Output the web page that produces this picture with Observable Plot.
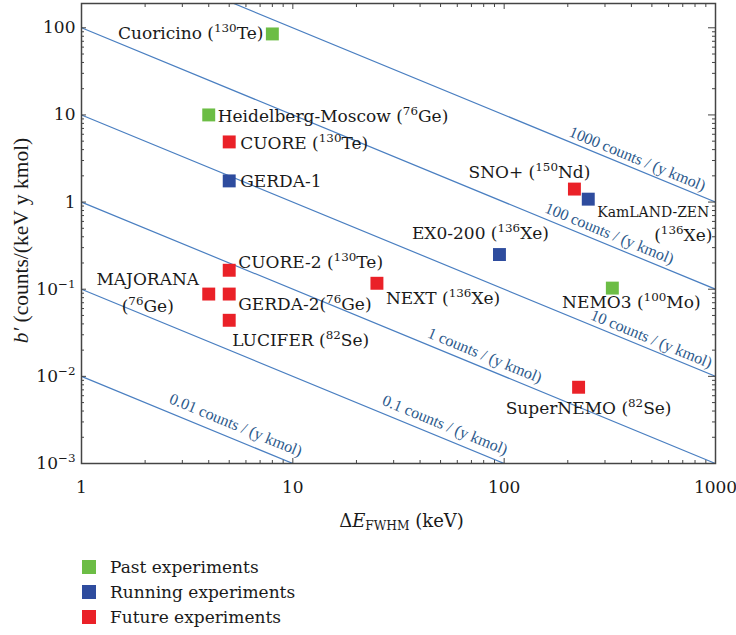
<!DOCTYPE html>
<html><head><meta charset="utf-8">
<script src="https://cdn.jsdelivr.net/npm/d3@7"></script>
<script src="https://cdn.jsdelivr.net/npm/@observablehq/plot@0.6"></script>
<style>
body{margin:0;background:#fff;font-family:"DejaVu Serif",serif;}
#legend{margin-top:14px;padding-left:82px;}
.row{display:flex;align-items:center;height:25px;font-size:17px;color:#1a1a1a}
.sw{width:14px;height:14px;margin-right:14px}
</style></head><body><div id="chart"></div><div id="legend"></div>
<script>
// ---- data ----
const experiments = ["Cuoricino","Heidelberg-Moscow","CUORE","GERDA-1","CUORE-2","MAJORANA","GERDA-2","LUCIFER","NEXT","EX0-200","SNO+","KamLAND-ZEN","NEMO3","SuperNEMO"];
const deltaE = [8, 4, 5, 5, 5, 4, 5, 5, 25, 95, 215, 250, 325, 225];
const background = [85, 10, 4.9, 1.75, 0.165, 0.088, 0.088, 0.044, 0.117, 0.25, 1.41, 1.08, 0.103, 0.0075];
const status = ["Past","Past","Future","Running","Future","Future","Future","Future","Future","Running","Future","Running","Past","Future"];
const labelText = ["Cuoricino (^{130}Te)","Heidelberg-Moscow (^{76}Ge)","CUORE (^{130}Te)","GERDA-1","CUORE-2 (^{130}Te)","MAJORANA\n(^{76}Ge)","GERDA-2(^{76}Ge)","LUCIFER (^{82}Se)","NEXT (^{136}Xe)","EX0-200 (^{136}Xe)","SNO+ (^{150}Nd)","KamLAND-ZEN\n(^{136}Xe)","NEMO3 (^{100}Mo)","SuperNEMO (^{82}Se)"];
const statusNames = ["Past","Running","Future"];
const legendLabels = ["Past experiments","Running experiments","Future experiments"];
const countRates = [1000, 100, 10, 1, 0.1, 0.01];
const countLabels = ["1000 counts / (y kmol)","100 counts / (y kmol)","10 counts / (y kmol)","1 counts / (y kmol)","0.1 counts / (y kmol)","0.01 counts / (y kmol)"];
const xTickValues = [1, 10, 100, 1000];
const xTickLabels = ["1","10","100","1000"];
const yTickValues = [1e-3, 1e-2, 1e-1, 1, 10, 100];
const yTickLabels = ["10^{−3}","10^{−2}","10^{−1}","1","10","100"];

// ---- layout / style ----
const colors = ["#6cbd45","#2e4c9e","#ea2128"];
const lineColor = "#4a7fc1", lineTextColor = "#2d5a8c", axisColor = "#444";
// per label line: [dx, dy, anchor, fontSize]
const placement = {
  "Cuoricino": [[-9,0,"end"]],
  "Heidelberg-Moscow": [[9,2,"start"]],
  "CUORE": [[11,2,"start"]],
  "GERDA-1": [[11,1,"start"]],
  "CUORE-2": [[9,-8,"start"]],
  "MAJORANA": [[-61,-15,"middle"],[-61,12,"middle"]],
  "GERDA-2": [[9,10,"start"]],
  "LUCIFER": [[3,20,"start"]],
  "NEXT": [[9,15,"start"]],
  "EX0-200": [[-19,-21,"middle"]],
  "SNO+": [[-45,-17,"middle"]],
  "KamLAND-ZEN": [[65,13,"middle",14],[95,36,"middle"]],
  "NEMO3": [[19,14,"middle"]],
  "SuperNEMO": [[10,21,"middle"]]
};
const countLabelAt = [427, 315, 497, 81, 52.5, 5.37];
const countLabelDy = [-11, -12, -11, -13, -14, -15];

const points = experiments.map((n, i) => ({name: n, x: deltaE[i], y: background[i], status: status[i]}));
const lines = countRates.flatMap(c => [{c, x: 1, y: c}, {c, x: 1000, y: c / 1000}]);

const labelMarks = points.flatMap((p, i) => labelText[i].split("\n").map((t, j) => {
  const [dx, dy, anchor, fs] = placement[p.name][j];
  return Plot.text([p], {x: "x", y: "y", text: () => t, dx, dy, textAnchor: anchor, lineAnchor: "middle", fontSize: fs || 17, fill: "#1a1a1a"});
}));
const countMarks = countRates.map((c, i) => Plot.text([{x: countLabelAt[i], y: c / countLabelAt[i]}], {
  x: "x", y: "y", text: () => countLabels[i], rotate: 22.4, dy: countLabelDy[i], textAnchor: "middle", lineAnchor: "middle",
  fontSize: 16, fill: lineTextColor, fontFamily: "Liberation Serif, serif"
}));

function decades(lo, hi) { const out = []; for (let k = lo; k < hi; k++) for (let m = 2; m <= 9; m++) out.push(m * Math.pow(10, k)); return out; }
const xMinor = decades(0, 3), yMinor = decades(-3, 3).filter(v => v < 190);
const blank = () => "";

const svg = Plot.plot({
  width: 736, height: 540,
  marginLeft: 81, marginRight: 21, marginTop: 3, marginBottom: 77,
  style: {fontFamily: "DejaVu Serif, serif", fontSize: "17px", background: "white", color: "#1a1a1a"},
  x: {type: "log", domain: [1, 1000]},
  y: {type: "log", domain: [1e-3, 190]},
  color: {domain: statusNames, range: colors},
  marks: [
    Plot.line(lines, {x: "x", y: "y", z: "c", stroke: lineColor, strokeWidth: 1.2, clip: true}),
    ...countMarks,
    Plot.axisX({ticks: xTickValues, tickFormat: d => xTickLabels[xTickValues.indexOf(d)], tickSize: 0, tickPadding: 17, label: null, fontSize: 17}),
    Plot.axisY({ticks: yTickValues, tickFormat: d => yTickLabels[yTickValues.indexOf(d)], tickSize: 0, tickPadding: 6, label: null, fontSize: 17}),
    Plot.axisX({anchor: "bottom", ticks: xTickValues, tickSize: -5, tickFormat: blank, label: null, stroke: axisColor}),
    Plot.axisX({anchor: "bottom", ticks: xMinor, tickSize: -3, tickFormat: blank, label: null, stroke: axisColor}),
    Plot.axisX({anchor: "top", ticks: xTickValues, tickSize: -5, tickFormat: blank, label: null, stroke: axisColor}),
    Plot.axisX({anchor: "top", ticks: xMinor, tickSize: -3, tickFormat: blank, label: null, stroke: axisColor}),
    Plot.axisY({anchor: "left", ticks: yTickValues, tickSize: -5, tickFormat: blank, label: null, stroke: axisColor}),
    Plot.axisY({anchor: "left", ticks: yMinor, tickSize: -3, tickFormat: blank, label: null, stroke: axisColor}),
    Plot.axisY({anchor: "right", ticks: yTickValues, tickSize: -8, tickFormat: blank, label: null, stroke: axisColor}),
    Plot.axisY({anchor: "right", ticks: yMinor, tickSize: -4, tickFormat: blank, label: null, stroke: axisColor}),
    Plot.frame({stroke: axisColor, strokeWidth: 1.5}),
    Plot.dot(points, {x: "x", y: "y", fill: "status", symbol: "square", r: 7.3}),
    ...labelMarks,
    Plot.text([0], {frameAnchor: "bottom", dy: 58, text: () => "Δ*{E}_{FWHM} (keV)", fontSize: 18, lineAnchor: "middle", textAnchor: "middle", dx: 3}),
    Plot.text([0], {frameAnchor: "left", rotate: -90, dx: -60, dy: 7, text: () => "*{b′} (counts/(keV y kmol)", fontSize: 21.5, lineAnchor: "middle", textAnchor: "middle", fontFamily: "Liberation Serif, serif"})
  ]
});

// convert ^{..} superscripts, _{..} subscripts, *{..} italics into tspans
function markup(root) {
  const ns = "http://www.w3.org/2000/svg";
  root.querySelectorAll("text").forEach(t => {
    if (t.querySelector("tspan")) return;
    const s = t.textContent;
    if (!/[\^_*]\{/.test(s)) return;
    t.textContent = "";
    const re = /([\^_*])\{([^}]*)\}/g;
    let last = 0, m;
    const add = (str) => { const ts = document.createElementNS(ns, "tspan"); ts.textContent = str; t.appendChild(ts); return ts; };
    while ((m = re.exec(s))) {
      if (m.index > last) add(s.slice(last, m.index));
      const ts = add(m[2]);
      if (m[1] === "^") { ts.setAttribute("baseline-shift", "super"); ts.setAttribute("font-size", "70%"); }
      else if (m[1] === "_") { ts.setAttribute("baseline-shift", "-3px"); ts.setAttribute("font-size", "68%"); }
      else { ts.setAttribute("font-style", "italic"); }
      last = re.lastIndex;
    }
    if (last < s.length) add(s.slice(last));
  });
}
markup(svg);
document.getElementById("chart").appendChild(svg);

const legend = document.getElementById("legend");
statusNames.forEach((s, i) => {
  const row = document.createElement("div"); row.className = "row";
  const sw = document.createElement("span"); sw.className = "sw"; sw.style.background = colors[i];
  const tx = document.createElement("span"); tx.textContent = legendLabels[i];
  row.appendChild(sw); row.appendChild(tx); legend.appendChild(row);
});
</script></body></html>
